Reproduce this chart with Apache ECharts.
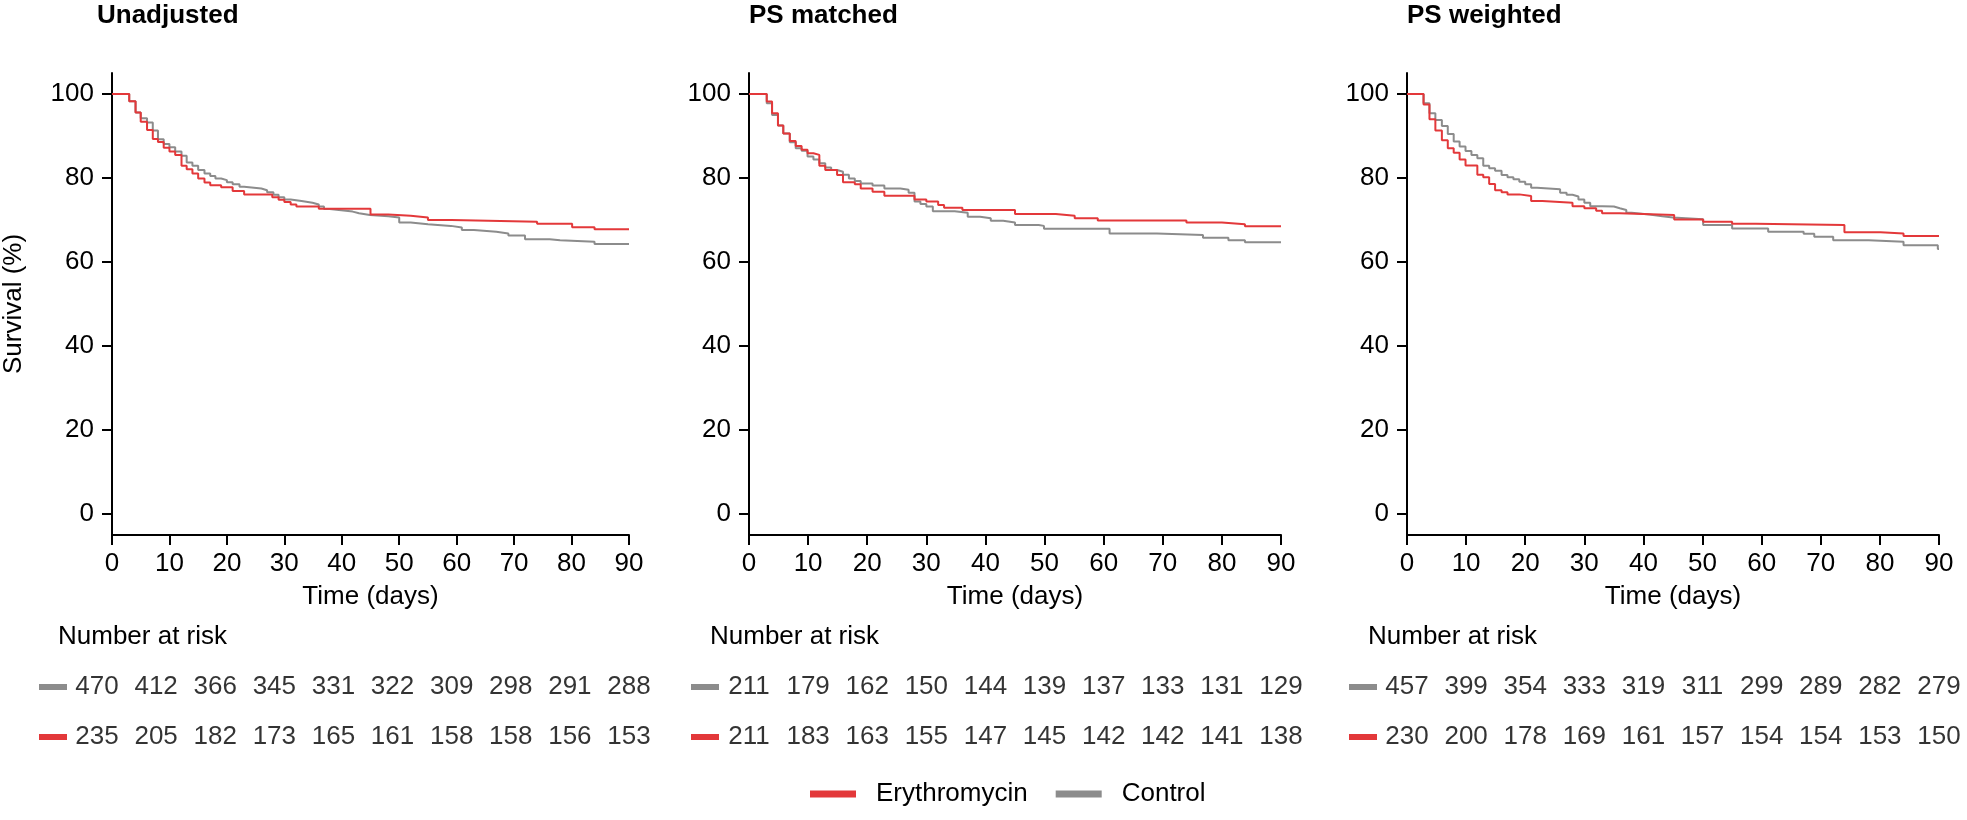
<!DOCTYPE html>
<html>
<head>
<meta charset="utf-8">
<script src="https://cdn.jsdelivr.net/npm/echarts@6/dist/echarts.min.js"></script>
<style>
html,body{margin:0;padding:0;background:#fff;}
#c{width:1967px;height:820px;}
</style>
</head>
<body>
<div id="c"></div>
<script>
// ---------- DATA ----------
const panelTitles = ['Unadjusted', 'PS matched', 'PS weighted'];
const seriesNames = ['Erythromycin', 'Control'];
const riskTimes = [0, 10, 20, 30, 40, 50, 60, 70, 80, 90];
const xTickValues = [0, 10, 20, 30, 40, 50, 60, 70, 80, 90];
const yTickValues = [0, 20, 40, 60, 80, 100];

// Panel 1 – Unadjusted
const unadjEryT = [0, 3.0, 4.1, 5.0, 6.1, 7.1, 8.0, 9.0, 10, 11, 12.1, 13, 14, 15, 16.1, 17.1, 19, 21, 23, 27.9, 29, 30, 31.1, 32.1, 36, 45, 48.1, 52, 55, 59.1, 74, 80.1, 84, 90];
const unadjEryS = [100, 98.3, 95.6, 93.4, 91.4, 89.3, 88.6, 87.2, 86.3, 85.5, 82.9, 82.1, 81.1, 79.9, 78.9, 78.3, 77.8, 76.9, 76.1, 75.4, 74.8, 74.3, 73.7, 73.2, 72.7, 71.3, 71.0, 70.6, 70.0, 69.6, 69.1, 68.3, 67.8, 67.7];
const unadjCtlT = [0, 3.0, 4.1, 5.0, 6.1, 7.1, 8.0, 9.0, 10, 11, 12.1, 13, 14, 15, 16.1, 17.1, 18, 19, 20, 21, 22.2, 23, 26, 27, 28.1, 29, 30, 31.1, 33, 34.9, 36, 36.9, 37.9, 39.9, 41.9, 43, 44.9, 48.1, 50, 52, 55, 59, 60.9, 63, 66.9, 69, 71.9, 76.2, 78, 84, 90];
const unadjCtlS = [100, 98.3, 95.6, 94.2, 93.2, 91.3, 89.2, 88.1, 87.3, 86.3, 85.3, 83.7, 82.9, 81.9, 81.1, 80.5, 79.9, 79.5, 79.0, 78.5, 77.9, 77.5, 77.1, 76.6, 76.0, 75.4, 74.9, 74.5, 74.1, 73.7, 73.2, 72.6, 72.3, 72.0, 71.6, 71.2, 70.9, 70.6, 69.4, 69.0, 68.6, 68.2, 67.6, 67.2, 66.8, 66.3, 65.4, 65.2, 64.8, 64.3, 64.2];
const unadjRiskCtl = [470, 412, 366, 345, 331, 322, 309, 298, 291, 288];
const unadjRiskEry = [235, 205, 182, 173, 165, 161, 158, 158, 156, 153];

// Panel 2 – PS matched
const matchEryT = [0, 3.0, 3.9, 4.9, 5.8, 6.9, 7.9, 8.9, 9.9, 10.9, 11.9, 12.9, 14.9, 15.9, 17.9, 18.9, 20.9, 22.9, 28, 30, 32, 33, 36.1, 45, 51.9, 55.1, 59, 74, 80, 83.9, 90];
const matchEryS = [100, 98.2, 95.4, 92.5, 90.6, 88.8, 87.6, 86.7, 85.9, 85.5, 82.9, 81.9, 80.7, 79.0, 78.5, 77.5, 76.7, 75.8, 74.9, 74.4, 73.6, 72.9, 72.4, 71.4, 71.0, 70.4, 69.9, 69.4, 69.0, 68.5, 68.4];
const matchCtlT = [0, 3.0, 3.9, 4.9, 5.8, 6.9, 7.9, 8.9, 9.9, 10.9, 11.9, 12.9, 13.9, 14.9, 15.9, 16.9, 17.9, 18.9, 20.9, 22.9, 25.6, 27, 28, 29, 30, 31.1, 34.8, 37, 39.1, 40.9, 43, 45, 49, 49.9, 61, 69, 76.8, 81.1, 83.9, 90];
const matchCtlS = [100, 97.8, 95.0, 92.5, 90.6, 88.5, 87.1, 86.5, 85.1, 84.4, 83.5, 82.5, 81.9, 81.5, 80.8, 79.9, 79.3, 78.7, 78.2, 77.5, 77.2, 76.5, 74.4, 73.8, 73.2, 72.1, 71.7, 70.8, 70.4, 69.8, 69.4, 68.8, 68.6, 67.9, 66.8, 66.4, 65.8, 65.2, 64.7, 64.6];
const matchRiskCtl = [211, 179, 162, 150, 144, 139, 137, 133, 131, 129];
const matchRiskEry = [211, 183, 163, 155, 147, 145, 142, 142, 141, 138];

// Panel 3 – PS weighted
const weightEryT = [0, 2.8, 3.8, 4.8, 5.9, 6.9, 7.9, 8.9, 9.9, 11.9, 12.9, 13.9, 14.9, 16, 17, 19, 21, 22.9, 28, 30, 32, 33, 36, 45.2, 50.1, 55, 59, 74, 80.1, 84, 90];
const weightEryS = [100, 97.5, 94.0, 91.3, 89.0, 87.1, 86.0, 84.4, 83.0, 80.8, 80.2, 78.6, 77.1, 76.6, 76.1, 75.7, 74.5, 74.1, 73.3, 72.8, 72.2, 71.6, 71.2, 70.1, 69.6, 69.1, 68.8, 67.1, 66.8, 66.2, 66.1];
const weightCtlT = [0, 2.8, 3.8, 4.8, 5.9, 6.9, 7.9, 8.9, 9.9, 10.9, 11.9, 12.9, 13.9, 14.9, 16, 17, 18, 19, 20, 21, 22, 25.9, 27, 28, 29, 30, 31, 33, 35, 36, 37.1, 38, 41, 43.2, 45, 50.1, 55, 61.1, 67.1, 68.9, 72.1, 78.1, 84, 89.8, 90];
const weightCtlS = [100, 97.8, 95.4, 93.8, 92.4, 90.5, 88.7, 87.5, 86.4, 85.5, 84.7, 82.9, 82.3, 81.7, 80.7, 80.2, 79.7, 79.1, 78.5, 77.7, 77.3, 76.5, 76.0, 75.6, 74.9, 74.1, 73.3, 73.2, 72.8, 72.4, 71.7, 71.3, 70.9, 70.6, 70.2, 68.8, 68.0, 67.2, 66.7, 66.0, 65.2, 64.8, 64.0, 63.1, 63.1];
const weightRiskCtl = [457, 399, 354, 333, 319, 311, 299, 289, 282, 279];
const weightRiskEry = [230, 200, 178, 169, 161, 157, 154, 154, 153, 150];

// ---------- LAYOUT / STYLE ----------
const RED = '#e3383a';
const GREY = '#8c8c8c';
const FONT = '"Liberation Sans", Arial, Helvetica, sans-serif';
const FS = 26;
const gridLefts = [97, 749, 1407];
const gridW = 532, gridTop = 73, gridH = 462;
const riskTop = 662, riskH = 100;

const panels = [
  {eT: unadjEryT, eS: unadjEryS, cT: unadjCtlT, cS: unadjCtlS, rC: unadjRiskCtl, rE: unadjRiskEry},
  {eT: matchEryT, eS: matchEryS, cT: matchCtlT, cS: matchCtlS, rC: matchRiskCtl, rE: matchRiskEry},
  {eT: weightEryT, eS: weightEryS, cT: weightCtlT, cS: weightCtlS, rC: weightRiskCtl, rE: weightRiskEry}
];
const zip = (t, s) => t.map((v, i) => [v, s[i]]);

const grid = [], xAxis = [], yAxis = [], series = [], graphic = [];
panels.forEach((p, k) => {
  const L = gridLefts[k];
  // KM grid
  grid.push({left: L, top: gridTop, width: gridW, height: gridH, containLabel: false});
  // risk table grid
  grid.push({left: L, top: riskTop, width: gridW, height: riskH, containLabel: false});
  const gi = k * 2, ri = k * 2 + 1;
  xAxis.push({
    gridIndex: gi, type: 'value', min: 0, max: 90, interval: 10,
    axisLine: {show: true, onZero: false, lineStyle: {color: '#000', width: 2}},
    axisTick: {show: true, length: 10, lineStyle: {color: '#000', width: 2}},
    axisLabel: {color: '#000', fontSize: FS, fontFamily: FONT, margin: 16},
    splitLine: {show: false},
    name: 'Time (days)', nameLocation: 'middle', nameGap: 49,
    nameTextStyle: {color: '#000', fontSize: FS, fontFamily: FONT}
  });
  xAxis.push({gridIndex: ri, type: 'value', min: 0, max: 90, show: false});
  yAxis.push({
    gridIndex: gi, type: 'value', min: -5, max: 105,
    axisLine: {show: true, onZero: false, lineStyle: {color: '#000', width: 2}},
    axisTick: {show: true, length: 10, customValues: yTickValues, lineStyle: {color: '#000', width: 2}},
    axisLabel: {color: '#000', fontSize: FS, fontFamily: FONT, margin: 18, customValues: yTickValues},
    splitLine: {show: false},
    name: k === 0 ? 'Survival (%)' : '', nameLocation: 'middle', nameGap: 85,
    nameTextStyle: {color: '#000', fontSize: FS, fontFamily: FONT}
  });
  yAxis.push({gridIndex: ri, type: 'value', min: -0.5, max: 1.5, show: false});

  series.push({
    name: 'Control', type: 'line', step: 'end', xAxisIndex: gi, yAxisIndex: gi,
    data: zip(p.cT, p.cS), showSymbol: false, symbol: 'none',
    lineStyle: {color: GREY, width: 2}, itemStyle: {color: GREY}, animation: false
  });
  series.push({
    name: 'Erythromycin', type: 'line', step: 'end', xAxisIndex: gi, yAxisIndex: gi,
    data: zip(p.eT, p.eS), showSymbol: false, symbol: 'none',
    lineStyle: {color: RED, width: 2}, itemStyle: {color: RED}, animation: false
  });
  const riskLabel = {
    show: true, position: 'inside', color: '#000', fontSize: FS, fontFamily: FONT,
    formatter: (d) => String(d.value[2])
  };
  series.push({
    name: 'risk-ctl-' + k, type: 'scatter', xAxisIndex: ri, yAxisIndex: ri,
    data: riskTimes.map((t, i) => [t, 1, p.rC[i]]), symbolSize: 1,
    itemStyle: {color: 'rgba(0,0,0,0)'}, label: riskLabel, silent: true, animation: false
  });
  series.push({
    name: 'risk-ery-' + k, type: 'scatter', xAxisIndex: ri, yAxisIndex: ri,
    data: riskTimes.map((t, i) => [t, 0, p.rE[i]]), symbolSize: 1,
    itemStyle: {color: 'rgba(0,0,0,0)'}, label: riskLabel, silent: true, animation: false
  });

  // panel title
  graphic.push({type: 'text', x: L, y: 16, style: {text: panelTitles[k], font: 'bold ' + FS + 'px ' + FONT, fill: '#000', verticalAlign: 'middle'}});
  // "Number at risk"
  graphic.push({type: 'text', x: L - 39, y: 637, style: {text: 'Number at risk', font: FS + 'px ' + FONT, fill: '#000', verticalAlign: 'middle'}});
  // row markers
  graphic.push({type: 'rect', shape: {x: L - 58, y: riskTop + riskH * 0.25 - 3, width: 28, height: 6}, style: {fill: GREY}});
  graphic.push({type: 'rect', shape: {x: L - 58, y: riskTop + riskH * 0.75 - 3, width: 28, height: 6}, style: {fill: RED}});
});

const chart = echarts.init(document.getElementById('c'), null, {renderer: 'canvas'});
chart.setOption({
  backgroundColor: '#fff',
  animation: false,
  textStyle: {fontFamily: FONT},
  grid, xAxis, yAxis, series, graphic,
  legend: {
    data: seriesNames, left: 810, top: 781, padding: 0,
    icon: 'rect', itemWidth: 46, itemHeight: 7, itemGap: 28,
    textStyle: {color: '#000', fontSize: FS, fontFamily: FONT, padding: [0, 0, 0, 15]},
    selectedMode: false
  }
});
</script>
</body>
</html>
